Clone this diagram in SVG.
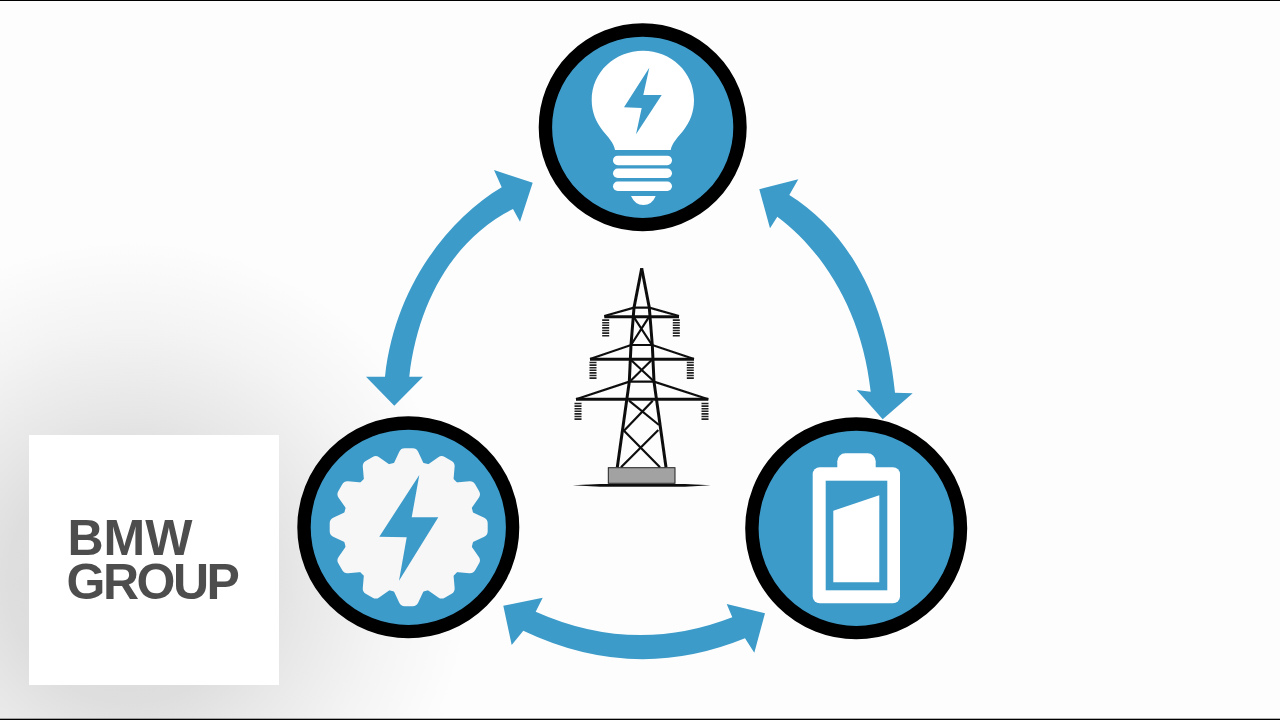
<svg xmlns="http://www.w3.org/2000/svg" width="1280" height="720" viewBox="0 0 1280 720">
<defs>
<radialGradient id="shade" gradientUnits="userSpaceOnUse" cx="130" cy="580" r="340">
<stop offset="0" stop-color="#d8d8d8"/><stop offset="0.36" stop-color="#dedede"/><stop offset="0.5" stop-color="#e7e7e7"/><stop offset="0.75" stop-color="#f4f4f4"/><stop offset="1" stop-color="#fdfdfd"/>
</radialGradient>
<filter id="b" x="-5%" y="-5%" width="110%" height="110%"><feGaussianBlur stdDeviation="0.5"/></filter>
<path id="tooth" d="M-4 -73H4L11 -58H-11Z" fill="#f7f7f7" stroke="#f7f7f7" stroke-width="12" stroke-linejoin="round"/>
</defs>
<style>
.soft{filter:url(#b)}
.ring{fill:#3c9bca;stroke:#000;stroke-width:13.400}
.ico{fill:#fff}
.blue{fill:#3c9bca}
.tw{fill:none;stroke:#111;stroke-width:3}
.th{fill:none;stroke:#111;stroke-width:2.200}
.ins{stroke:#222;stroke-width:7;stroke-dasharray:1.600 1;fill:none}
.logo{font-family:"Liberation Sans",Arial,sans-serif;font-weight:700;font-size:50px;fill:#4e4e4e}
</style>
<rect width="1280" height="720" fill="#fdfdfd"/>
<rect x="0" y="240" width="470" height="480" fill="url(#shade)"/>
<rect x="0" y="0" width="1280" height="1" fill="#000"/>
<rect x="0" y="718.700" width="1280" height="1.300" fill="#000"/>
<g id="logo">
<rect x="29" y="435" width="250" height="250" fill="#fff"/>
<text class="logo soft"><tspan x="67.500" y="555">BMW</tspan><tspan x="66.500" y="599" letter-spacing="-2.500">GROUP</tspan></text>
</g>
<g id="connectors" class="soft">
<path class="blue" d="M532.700 182.700L494 170L501.700 187.300C450 218 395 285 385 376.700L366 376.700L394.300 405.700L423 376.700L409.300 376.700C418 300 455 238 513 209L520 221.700Z"/>
<path class="blue" d="M759.300 189.300L798.300 179.300L789.300 195C842 228 885 290 895 392.700L912.700 393.300L882.700 419.300L856.700 390L870.700 391.700C862 310 822 250 777.300 216.700L770 228.300Z"/>
<path class="blue" d="M503.300 605.700L542.700 597.700L535.700 611.700Q634 655.500 732.300 617.300L726.700 604L765 613.300L754.300 652.700L745 638.300Q634 683.500 523.300 630.700L511.700 645Z"/>
</g>
<g id="bulb" class="soft">
<circle class="ring" cx="642.700" cy="127.300" r="97.300"/>
<path class="ico" d="M615 150C614 143 608 137 603 131C596 122 591.700 112 591.700 100C591.700 72 615 50.700 643 50.700C671 50.700 694 72 694 100C694 112 690 122 683 131C678 137 672 143 670.700 150Z"/>
<rect class="ico" x="613" y="155.700" width="59" height="9.500" rx="4.700"/>
<rect class="ico" x="613" y="168.500" width="59" height="9.500" rx="4.700"/>
<rect class="ico" x="613" y="181.500" width="59" height="9.500" rx="4.700"/>
<path class="ico" d="M631 196H655.700Q652 205 643.300 205Q635 205 631 196Z"/>
<path class="blue" d="M649.300 67.700L643.300 95H661.700L636 134.300L641.700 108L624 107.300Z"/>
</g>
<g id="gear" class="soft">
<circle class="ring" cx="408.300" cy="527.300" r="104.300"/>
<g transform="translate(408.700 527.300)">
<circle r="66" fill="#f7f7f7"/>
<use href="#tooth"/>
<use href="#tooth" transform="rotate(30)"/>
<use href="#tooth" transform="rotate(60)"/>
<use href="#tooth" transform="rotate(90)"/>
<use href="#tooth" transform="rotate(120)"/>
<use href="#tooth" transform="rotate(150)"/>
<use href="#tooth" transform="rotate(180)"/>
<use href="#tooth" transform="rotate(210)"/>
<use href="#tooth" transform="rotate(240)"/>
<use href="#tooth" transform="rotate(270)"/>
<use href="#tooth" transform="rotate(300)"/>
<use href="#tooth" transform="rotate(330)"/>
</g>
<path class="blue" d="M419.300 475L411.700 517.300H438.300L399 580.700L406.700 537.300L379.300 536.700Z"/>
</g>
<g id="battery" class="soft">
<circle class="ring" cx="856.200" cy="528.300" r="104.300"/>
<rect class="ico" x="837.300" y="453.300" width="38.400" height="24" rx="8"/>
<rect class="ico" x="812.700" y="467.300" width="87.300" height="136" rx="7"/>
<rect class="blue" x="825.700" y="480.700" width="61.600" height="109.600"/>
<path class="ico" d="M833.300 510.700L879.300 495.300V582.300H833.300Z"/>
</g>
<g id="pylon" class="soft">
<path class="tw" d="M641.700 268.300L634 307.700L631 345L629.300 381.700L617.300 467.300"/>
<path class="tw" d="M641.700 268.300L649.300 307.700L652.300 345L654 381.700L666 467.300"/>
<path class="tw" d="M604.300 316.700H679M590 359.300H694M576 399.300H708.300"/>
<path class="th" d="M604.300 316L634 307.700H649.300L679 316M590 359L631 345H652.300L694 359M576 399.300L629.300 381.700H654L708.300 399.300"/>
<path class="th" d="M634 317.300L652 345M648.700 317.300L631 345M631 360L653.300 380.700M651.700 360L630.700 380.700M629 400.700L659 425M652.700 400.700L624 430.700L660 467.300M658.300 430L621 467.300"/>
<path class="ins" d="M605.700 319.300V337.300M676.300 319.300V337.300M593 361.700V380M690.300 361.700V380M578 402.700V420.700M705 402.700V420.700"/>
<rect x="608.300" y="467.700" width="66.700" height="15.600" fill="#a2a2a2" stroke="#222" stroke-width="1"/>
<path d="M572.700 485.300L600 484H685L710.700 485.300L685 486.800H600Z" fill="#111"/>
</g>
</svg>
